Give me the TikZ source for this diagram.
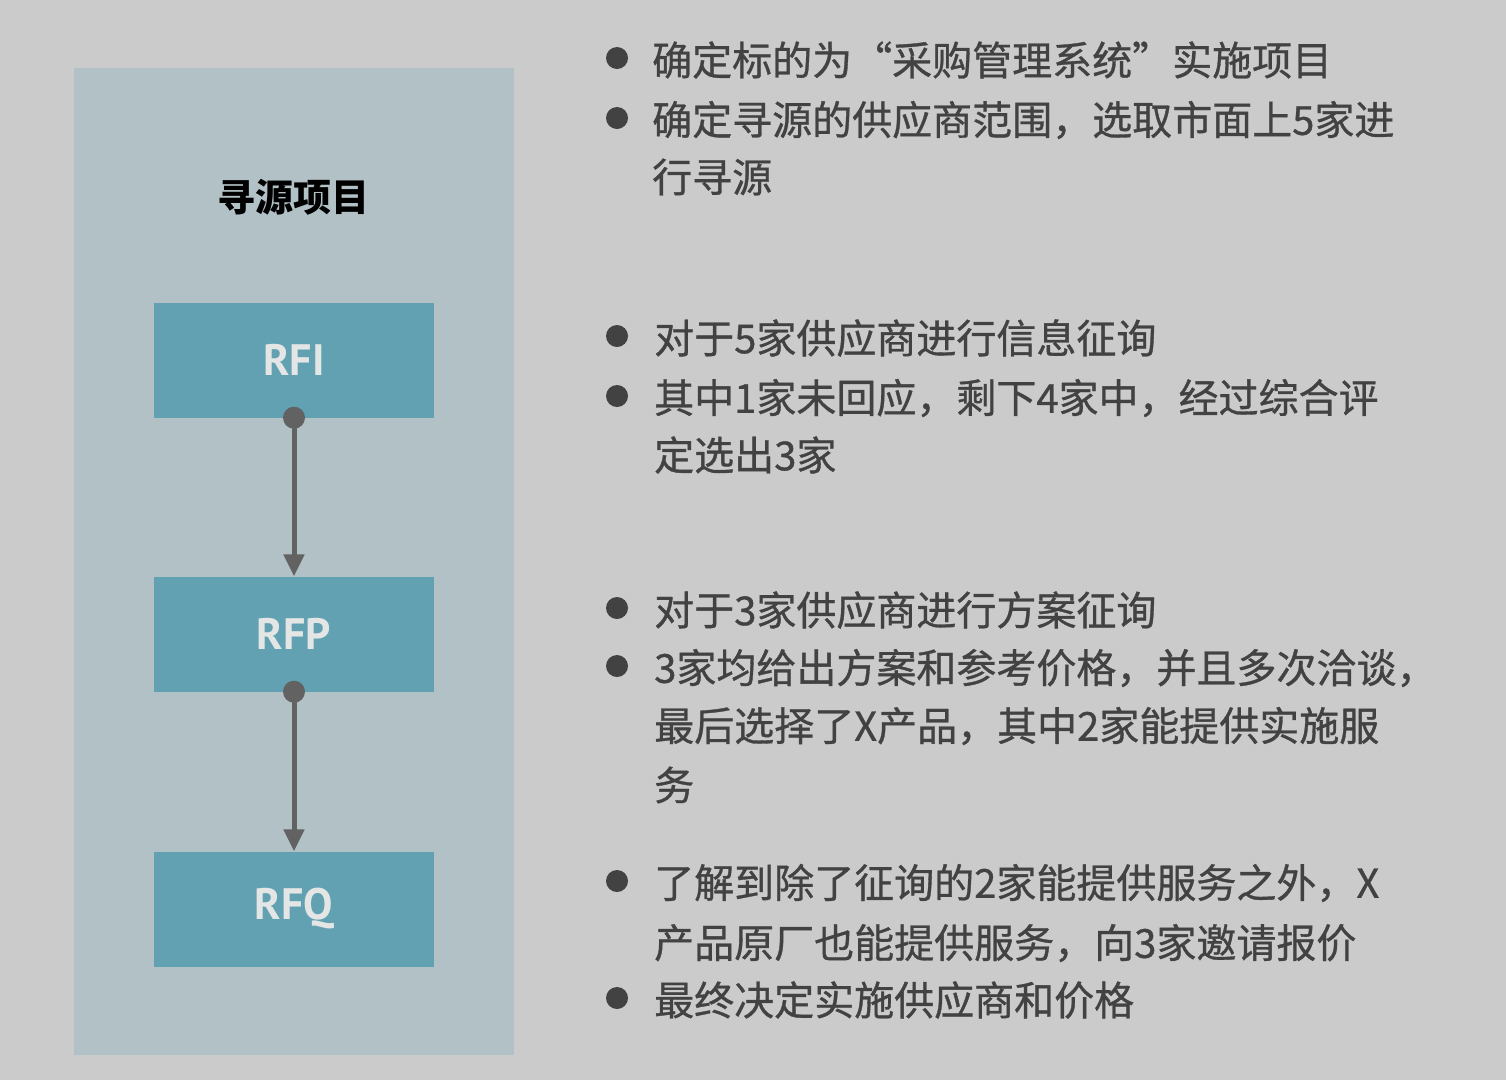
\documentclass[tikz,border=0pt]{standalone}
\usepackage{fontspec}
\newfontfamily\cjk{Noto Sans CJK SC}
\newfontfamily\cjkbody[FakeBold=0.8]{Noto Sans CJK SC}
\newfontfamily\boxfont{PT Sans}
\usetikzlibrary{arrows.meta}
\definecolor{bgc}{HTML}{CBCBCB}
\definecolor{panelc}{HTML}{B1C1C6}
\definecolor{boxc}{HTML}{62A1B1}
\definecolor{boxtext}{HTML}{E4E6E6}
\definecolor{txtc}{HTML}{424242}
\definecolor{connc}{HTML}{626262}
\begin{document}
\begin{tikzpicture}[x=1pt,y=-1pt,
  stage/.style={fill=boxc,draw=none,minimum width=280pt,minimum height=115pt,inner sep=0pt,
    font=\boxfont\bfseries\fontsize{44}{44}\selectfont,text=boxtext},
  conn/.style={draw=connc,line width=5pt,-{Triangle[width=20pt,length=22pt]}},
  dotc/.style={fill=connc},
  line/.style={anchor=west,inner sep=0pt,font=\cjkbody\fontsize{40}{40}\selectfont,text=txtc},
  bul/.style={fill=txtc}]
\useasboundingbox (0,0) rectangle (1506,1080);
\fill[bgc] (0,0) rectangle (1506,1080);
\fill[panelc] (74,68) rectangle (514,1055);
\node[inner sep=0pt,font=\cjk\bfseries\fontsize{38}{38}\selectfont,text=black] (title) at (293,197) {寻源项目};
\node[stage] (rfi) at (294,360) {RFI};
\node[stage] (rfp) at (294,634) {RFP};
\node[stage] (rfq) at (294,909) {RFQ};
\draw[conn] (rfi.south) -- (rfp.north);
\draw[conn] (rfp.south) -- (rfq.north);
\fill[dotc] (rfi.south) circle (11);
\fill[dotc] (rfp.south) circle (11);
% bullets
\foreach \yy in {58,118,336,396,608,666,881,998} \fill[bul] (617,\yy) circle (11);
\node[line] (t1) at (652,60) {确定标的为“采购管理系统”实施项目};
\node[line] (t2) at (652,120) {确定寻源的供应商范围，选取市面上5家进};
\node[line] (t3) at (652,177) {行寻源};
\node[line] (t4) at (654,338) {对于5家供应商进行信息征询};
\node[line] (t5) at (654,398) {其中1家未回应，剩下4家中，经过综合评};
\node[line] (t6) at (654,455) {定选出3家};
\node[line] (t7) at (654,610) {对于3家供应商进行方案征询};
\node[line] (t8) at (654,668) {3家均给出方案和参考价格，并且多次洽谈，};
\node[line] (t9) at (654,726) {最后选择了X产品，其中2家能提供实施服};
\node[line] (t10) at (654,785) {务};
\node[line] (t11) at (654,883) {了解到除了征询的2家能提供服务之外，X};
\node[line] (t12) at (654,943) {产品原厂也能提供服务，向3家邀请报价};
\node[line] (t13) at (654,1000) {最终决定实施供应商和价格};
\end{tikzpicture}
\end{document}
